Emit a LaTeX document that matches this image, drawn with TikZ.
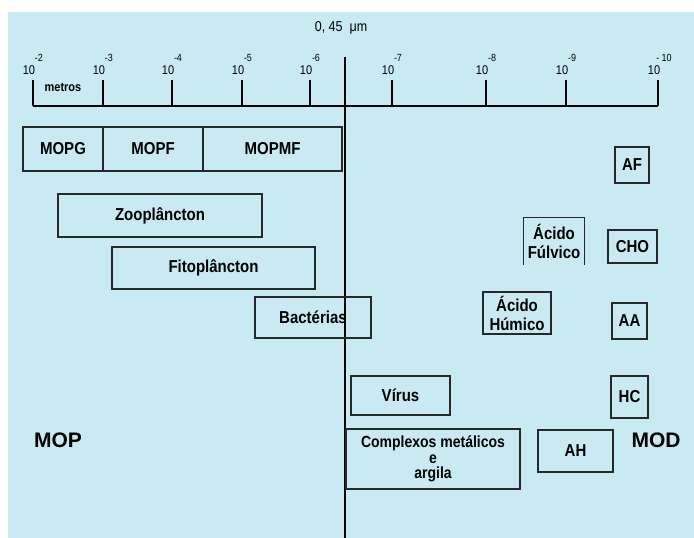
\documentclass[tikz,border=0pt]{standalone}
\usepackage{fontspec}
\usepackage{graphicx}
\setmainfont{Liberation Sans}
\definecolor{bgblue}{RGB}{201,233,243}
\definecolor{edge}{RGB}{40,40,40}
\newcommand{\vstr}[1]{\scalebox{1}[1.15]{#1}}
\begin{document}
\begin{tikzpicture}[x=1pt,y=-1pt,
  box/.style={draw=edge,line width=1.1pt,inner sep=0pt,align=center,
    font=\fontsize{15}{14}\selectfont\bfseries},
  big/.style={inner sep=0pt,font=\fontsize{21}{24}\selectfont\bfseries},
  tenlab/.style={inner sep=0pt,font=\fontsize{11}{12}\selectfont},
  explab/.style={inner sep=0pt,font=\fontsize{9}{10}\selectfont},
  tickline/.style={line width=1.8pt,draw=black}]
\useasboundingbox (0,0) rectangle (694,538);
\fill[bgblue] (8,12) rectangle (694,538);
% axis
\coordinate (aL) at (33,106);
\coordinate (aR) at (658,106);
\draw[tickline] (aL) -- (aR);
\foreach \x/\e/\n in {33/-2/a,103/-3/b,172/-4/c,242/-5/d,310/-6/e,392/-7/f,486/-8/g,566/-9/h,658/{- 10}/i}{
  \coordinate (t\n) at (\x,80);
  \coordinate (b\n) at (\x,106);
  \draw[tickline] (t\n) -- (b\n);
  \node[tenlab] (ten\n) at (\x-4,70) {\vstr{10}};
  \node[explab] (exp\n) at (\x+6,58) {\vstr{\e}};
}
\node[inner sep=0pt,font=\fontsize{11}{12}\selectfont\bfseries] (metros) at (63,87) {\vstr{metros}};
\node[inner sep=0pt,font=\fontsize{12.5}{14}\selectfont] (lim) at (341,28) {\vstr{0, 45~ μm}};
% central line
\coordinate (cT) at (345,57);
\coordinate (cB) at (345,538);
\draw[line width=2.6pt] (cT) -- (cB);
% boxes
\node[box,minimum width=80pt,minimum height=44pt] (mopg) at (63,149) {\vstr{MOPG}};
\node[box,minimum width=100pt,minimum height=44pt] (mopf) at (153,149) {\vstr{MOPF}};
\node[box,minimum width=139pt,minimum height=44pt] (mopmf) at (272.5,149) {\vstr{MOPMF}};
\node[box,minimum width=204pt,minimum height=43pt] (zoo) at (160,215.5) {\vstr{Zooplâncton}};
\node[box,minimum width=203pt,minimum height=42pt] (fito) at (213.5,268) {\vstr{Fitoplâncton}};
\node[box,minimum width=116pt,minimum height=41pt] (bact) at (313,317.5) {\vstr{Bactérias}};
\node[box,minimum width=34pt,minimum height=36pt] (af) at (632,165) {\vstr{AF}};
\node[box,draw=none,minimum width=60pt,minimum height=46pt,font=\fontsize{15}{19}\selectfont\bfseries] (fulv) at (554,241) {\vstr{Ácido}\\\vstr{Fúlvico}};
\draw[draw=edge,line width=1.1pt] (fulv.south west) -- (fulv.north west) -- (fulv.north east) -- (fulv.south east);
\node[box,minimum width=49pt,minimum height=33pt] (cho) at (632.5,246.5) {\vstr{CHO}};
\node[box,minimum width=68pt,minimum height=42pt,font=\fontsize{15}{19}\selectfont\bfseries] (humico) at (517,313) {\vstr{Ácido}\\\vstr{Húmico}};
\node[box,minimum width=35pt,minimum height=36pt] (aa) at (629.5,321) {\vstr{AA}};
\node[box,minimum width=99pt,minimum height=39pt] (virus) at (400.5,395.5) {\vstr{Vírus}};
\node[box,minimum width=37pt,minimum height=42pt] (hc) at (629.5,397) {\vstr{HC}};
\node[box,minimum width=174pt,minimum height=60pt,font=\fontsize{14}{15.5}\selectfont\bfseries] (compl) at (433,459) {\vstr{Complexos metálicos}\\\vstr{e}\\\vstr{argila}};
\node[box,minimum width=75pt,minimum height=42pt] (ah) at (575.5,451) {\vstr{AH}};
\node[big] (mop) at (58,440) {MOP};
\node[big] (mod) at (656,440) {MOD};
\end{tikzpicture}
\end{document}
